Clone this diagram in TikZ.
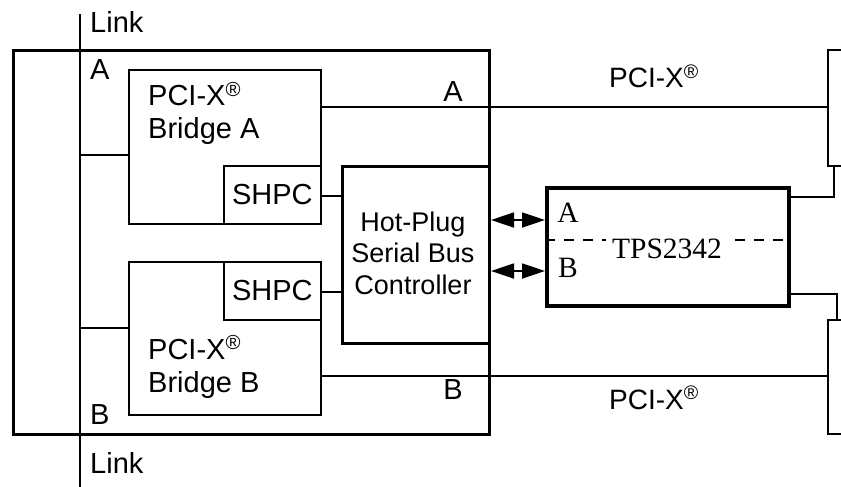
\documentclass[tikz,border=0pt]{standalone}
\usepackage{fontspec}
\setmainfont{Liberation Sans}
\newfontfamily\tifont{Liberation Serif}
\usetikzlibrary{arrows.meta}

\tikzset{
  thinln/.style={line width=1.8pt},
  thickln/.style={line width=3pt},
  blk/.style={draw,thinln,inner sep=0pt,anchor=north west,font=\fontsize{29}{31}\selectfont},
  lbl/.style={inner sep=0pt,font=\fontsize{29}{31}\selectfont},
  serif/.style={inner sep=0pt,font=\tifont\fontsize{29.5}{32}\selectfont},
  busarrow/.style={thinln,{Triangle[length=23pt,width=15pt]}-{Triangle[length=23pt,width=15pt]}},
}
\newcommand{\pcix}{PCI-X\textsuperscript{\textregistered}}

\begin{document}
\begin{tikzpicture}[x=1pt,y=-1pt]
  \useasboundingbox (0,0) rectangle (841,487);
  \clip (0,0) rectangle (841,487);

  % host card and link
  \node[blk,thickln,minimum width=476pt,minimum height=384pt] (host) at (12,49) {};
  \coordinate (linktop) at (80,14);
  \coordinate (linkbot) at (80,487);
  \draw[thinln] (linktop) -- (linkbot);
  \node[lbl,anchor=west] (linkA) at (90,22) {Link};
  \node[lbl,anchor=west] (linkB) at (90,463) {Link};
  \node[lbl,anchor=west] (portA) at (90,70) {A};
  \node[lbl,anchor=west] (portB) at (90,415) {B};

  % bridges
  \node[blk,minimum width=192pt,minimum height=154pt] (brA) at (128,69) {};
  \node[blk,minimum width=97pt,minimum height=58pt] (shpcA) at (223,165) {SHPC};
  \node[lbl,anchor=base west] (brAtop) at (148,106) {\pcix};
  \node[lbl,anchor=base west] (brAbot) at (148,138) {Bridge A};

  \node[blk,minimum width=192pt,minimum height=153pt] (brB) at (128,261) {};
  \node[blk,minimum width=97pt,minimum height=58pt] (shpcB) at (223,261) {SHPC};
  \node[lbl,anchor=base west] (brBtop) at (148,359) {\pcix};
  \node[lbl,anchor=base west] (brBbot) at (148,392) {Bridge B};

  \coordinate (tapA) at (80,155);
  \coordinate (tapB) at (80,328);
  \draw[thinln] (tapA) -- (tapA -| brA.west);
  \draw[thinln] (tapB) -- (tapB -| brB.west);

  % hot-plug controller
  \node[blk,thickln,minimum width=147pt,minimum height=177pt] (hp) at (341,165) {};
  \node[lbl,align=center,font=\fontsize{27}{31.5}\selectfont] (hptxt) at (413,253) {Hot-Plug\\Serial Bus\\Controller};
  \coordinate (smA) at (0,196);
  \coordinate (smB) at (0,292);
  \draw[thinln] (shpcA.east |- smA) -- (hp.west |- smA);
  \draw[thinln] (shpcB.east |- smB) -- (hp.west |- smB);

  % TPS2342
  \node[blk,line width=3.5pt,minimum width=242pt,minimum height=118pt] (tps) at (545,186) {};
  \coordinate (mid) at (0,240);
  \draw[thinln,dash pattern=on 10pt off 9pt] (tps.west |- mid) -- (tps.east |- mid);
  \node[serif,fill=white,inner xsep=6pt,inner ysep=2pt] (tpsname) at (667,249) {TPS2342};
  \node[serif] (chA) at (568,213) {A};
  \node[serif] (chB) at (568,268) {B};

  \coordinate (busA) at (0,220);
  \coordinate (busB) at (0,271);
  \draw[busarrow] (hp.east |- busA) -- (tps.west |- busA);
  \draw[busarrow] (hp.east |- busB) -- (tps.west |- busB);

  % slots
  \node[blk,minimum width=40pt,minimum height=116pt] (slotA) at (827,49) {};
  \node[blk,minimum width=40pt,minimum height=114pt] (slotB) at (827,319) {};
  \coordinate (pciA) at (0,107);
  \coordinate (pciB) at (0,376);
  \draw[thinln] (brA.east |- pciA) -- (slotA.west |- pciA);
  \draw[thinln] (brB.east |- pciB) -- (slotB.west |- pciB);
  \node[lbl] (busnameA) at (453,92) {A};
  \node[lbl] (busnameB) at (453,390) {B};
  \node[lbl,anchor=base west,font=\fontsize{28}{31}\selectfont] (pcitop) at (609,88) {\pcix};
  \node[lbl,anchor=base west,font=\fontsize{28}{31}\selectfont] (pcibot) at (609,409) {\pcix};

  \coordinate (jogA) at (834,197);
  \coordinate (jogB) at (837,294);
  \draw[thinln] (tps.east |- jogA) -- (jogA) -- (jogA |- slotA.south);
  \draw[thinln] (tps.east |- jogB) -- (jogB) -- (jogB |- slotB.north);
\end{tikzpicture}
\end{document}
